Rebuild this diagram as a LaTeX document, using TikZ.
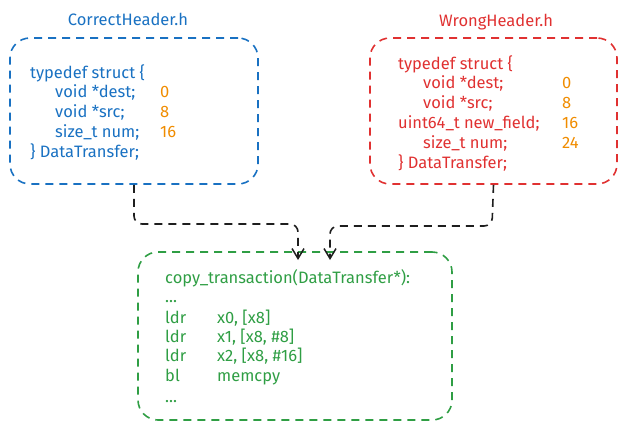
\documentclass[tikz,border=0pt]{standalone}
\usepackage{fontspec}
\setmainfont{Fira Sans}
\usetikzlibrary{arrows.meta}
\definecolor{cblue}{HTML}{1971C2}
\definecolor{cred}{HTML}{E03131}
\definecolor{corange}{HTML}{F08C00}
\definecolor{cgreen}{HTML}{2F9E44}
\definecolor{cblack}{HTML}{1E1E1E}
\tikzset{
  boxstyle/.style={draw, line width=1.6pt, dash pattern=on 8pt off 6pt, rounded corners=20pt, inner sep=0pt},
  txt/.style={anchor=base west, inner sep=0pt, font=\fontsize{16.5}{19}\selectfont},
  title/.style={anchor=base, inner sep=0pt, font=\fontsize{16.5}{19}\selectfont},
  conn/.style={draw=cblack, line width=1.6pt, dash pattern=on 8pt off 6pt, rounded corners=8pt, -{Straight Barb[length=10pt,width=12pt,line width=1.5pt]}},
}
\begin{document}
\begin{tikzpicture}[x=1pt,y=-1pt]
\useasboundingbox (0,0) rectangle (626,431);
% boxes
\node[boxstyle, draw=cblue, minimum width=248pt, minimum height=146pt] (blue) at (134,111) {};
\node[boxstyle, draw=cred, minimum width=247pt, minimum height=146pt] (red) at (493.5,111) {};
\node[boxstyle, draw=cgreen, minimum width=314pt, minimum height=168pt] (green) at (295,336) {};
% titles
\node[title, text=cblue] (tblue) at (128,25) {CorrectHeader.h};
\node[title, text=cred] (tred) at (496,26) {WrongHeader.h};
% blue text
\begin{scope}[every node/.append style={txt, text=cblue}]
\node (b1) at (30,78) {typedef struct \{};
\node (b2) at (55,97) {void *dest;};
\node (b3) at (55,117) {void *src;};
\node (b4) at (55,137) {size\_t num;};
\node (b5) at (30,157) {\} DataTransfer;};
\end{scope}
\begin{scope}[every node/.append style={txt, text=corange}]
\node (bn1) at (160,97) {0};
\node (bn2) at (160,117) {8};
\node (bn3) at (160,137) {16};
\end{scope}
% red text
\begin{scope}[every node/.append style={txt, text=cred}]
\node (r1) at (398,69) {typedef struct \{};
\node (r2) at (423,88) {void *dest;};
\node (r3) at (423,108) {void *src;};
\node (r4) at (398,128) {uint64\_t new\_field;};
\node (r5) at (423,148) {size\_t num;};
\node (r6) at (398,168) {\} DataTransfer;};
\end{scope}
\begin{scope}[every node/.append style={txt, text=corange}]
\node (rn1) at (562,88) {0};
\node (rn2) at (562,108) {8};
\node (rn3) at (562,128) {16};
\node (rn4) at (562,148) {24};
\end{scope}
% green text
\begin{scope}[every node/.append style={txt, text=cgreen}]
\node (g1) at (165,283) {copy\_transaction(DataTransfer*):};
\node (g2) at (165,302) {...};
\node (g3) at (165,323) {ldr};
\node (g3b) at (217,323) {x0, [x8]};
\node (g4) at (165,342) {ldr};
\node (g4b) at (217,342) {x1, [x8, \#8]};
\node (g5) at (165,361) {ldr};
\node (g5b) at (217,361) {x2, [x8, \#16]};
\node (g6) at (165,381) {bl};
\node (g6b) at (217,381) {memcpy};
\node (g7) at (165,402) {...};
\end{scope}
% connectors
\coordinate (e1) at (298,260);
\coordinate (e2) at (330,260);
\draw[conn] (blue.south) -- (134,224) -- (298,224) -- (e1);
\draw[conn] (red.south) -- (492,226) -- (330,226) -- (e2);
\end{tikzpicture}
\end{document}
